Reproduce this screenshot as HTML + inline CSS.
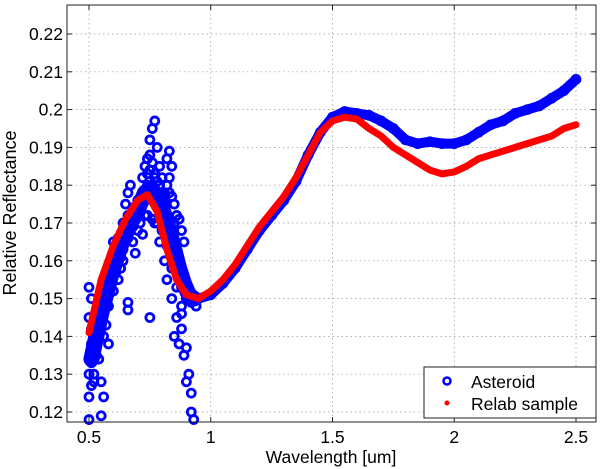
<!DOCTYPE html>
<html><head><meta charset="utf-8"><style>
body{margin:0;background:#fff;}
svg{display:block;font-family:"Liberation Sans",sans-serif;}
</style></head><body>
<svg width="600" height="469">
<g id="grid"></g>
<g id="ast"></g>
<g id="rel"></g>
<rect x="67" y="5" width="529" height="417" fill="none" stroke="#222" stroke-width="1"/>
<g id="ticks"></g>
<text x="331" y="463" font-size="17.5" text-anchor="middle">Wavelength [um]</text>
<text x="0" y="0" font-size="18" text-anchor="middle" transform="translate(16,213) rotate(-90)">Relative Reflectance</text>
<g>
<rect x="424" y="367" width="172" height="51" fill="#fff" stroke="#222" stroke-width="1"/>
<circle cx="447" cy="381" r="3.5" fill="none" stroke="#0000ff" stroke-width="2.5"/>
<text x="471" y="388" font-size="17.5">Asteroid</text>
<circle cx="447" cy="403" r="2.5" fill="#ff0000"/>
<text x="471" y="410" font-size="17.5">Relab sample</text>
</g>
</svg>
<script>
const xTicks=[0.5,1,1.5,2,2.5];
const xTickLabels=["0.5","1","1.5","2","2.5"];
const yTicks=[0.12,0.13,0.14,0.15,0.16,0.17,0.18,0.19,0.2,0.21,0.22];
const yTickLabels=["0.12","0.13","0.14","0.15","0.16","0.17","0.18","0.19","0.2","0.21","0.22"];
const astWave=[0.5,0.5,0.5,0.5,0.51,0.51,0.51,0.51,0.51,0.5,0.52,0.52,0.53,0.54,0.55,0.56,0.57,0.58,0.59,0.6,0.62,0.64,0.66,0.68,0.7,0.72,0.74,0.76,0.78,0.8,0.82,0.84,0.86,0.88,0.9,0.92,
0.54,0.55,0.55,0.56,0.58,0.6,0.61,0.66,0.66,0.65,0.66,0.67,0.69,0.72,0.73,0.74,0.75,0.75,0.76,0.77,0.78,0.79,0.8,0.75,0.71,0.82,0.83,0.84,0.83,0.85,0.86,0.87,0.88,0.87,0.89,0.82,0.84,0.85,0.86,0.87,0.88,0.89,0.9,0.91,0.9,0.92,0.92,0.93,0.88,0.81,0.79,0.77,0.8,0.63,0.6,0.58,0.57,0.56,0.52,0.53,0.54,0.62,0.64,0.68,0.7,0.73,0.77,0.79,0.81,0.83,0.85,0.86,0.89,0.91,0.94,
0.72,0.73,0.74,0.75,0.76,0.77,0.78,0.79,0.8,0.81,0.82,0.83,0.84,0.85,0.74,0.76,0.78,0.8,0.82,0.84,0.86,0.88,0.7,0.68,0.66,0.64,0.62,0.6,0.58,0.56,0.54,0.52,0.53,0.55,0.57,0.59,0.61,0.63,0.65,0.67,0.69,0.71,
0.95,1.0,1.05,1.1,1.15,1.2,1.25,1.3,1.35,1.4,1.45,1.5,1.55,1.6,1.65,1.7,1.75,1.8,1.85,1.9,1.95,2.0,2.05,2.1,2.15,2.2,2.25,2.3,2.35,2.4,2.45,2.5];
const astRefl=[0.118,0.124,0.13,0.145,0.127,0.133,0.138,0.142,0.15,0.153,0.135,0.128,0.135,0.14,0.145,0.15,0.153,0.157,0.16,0.162,0.166,0.17,0.172,0.174,0.176,0.178,0.18,0.178,0.176,0.172,0.168,0.163,0.158,0.153,0.15,0.149,
0.134,0.128,0.119,0.124,0.138,0.165,0.162,0.149,0.147,0.175,0.178,0.18,0.162,0.167,0.172,0.183,0.188,0.192,0.195,0.197,0.19,0.185,0.182,0.145,0.17,0.187,0.189,0.185,0.178,0.175,0.172,0.171,0.168,0.16,0.165,0.155,0.15,0.14,0.145,0.138,0.142,0.135,0.137,0.13,0.128,0.125,0.12,0.118,0.146,0.16,0.165,0.17,0.175,0.158,0.152,0.148,0.143,0.14,0.13,0.145,0.15,0.155,0.16,0.165,0.168,0.176,0.182,0.178,0.178,0.17,0.165,0.16,0.155,0.15,0.148,
0.182,0.185,0.187,0.184,0.186,0.183,0.181,0.18,0.178,0.176,0.18,0.182,0.177,0.17,0.172,0.171,0.17,0.168,0.164,0.158,0.153,0.148,0.172,0.169,0.166,0.163,0.16,0.156,0.152,0.147,0.142,0.137,0.14,0.143,0.148,0.153,0.157,0.161,0.165,0.168,0.171,0.174,
0.150,0.151,0.154,0.158,0.163,0.168,0.172,0.176,0.181,0.188,0.194,0.198,0.1995,0.199,0.1985,0.197,0.195,0.192,0.191,0.1915,0.191,0.191,0.192,0.194,0.196,0.197,0.199,0.2,0.201,0.203,0.205,0.208];
const bandWave=[0.51,0.53,0.55,0.57,0.59,0.61,0.63,0.65,0.67,0.69,0.71,0.73,0.75,0.77,0.79,0.81,0.83,0.85,0.87,0.89,0.91,0.93];
const bandRefl=[0.134,0.14,0.146,0.151,0.156,0.16,0.164,0.167,0.17,0.172,0.175,0.178,0.179,0.178,0.176,0.172,0.168,0.163,0.158,0.154,0.151,0.15];
const relabWave=[0.5,0.55,0.6,0.65,0.7,0.74,0.78,0.82,0.86,0.9,0.95,1.0,1.05,1.1,1.15,1.2,1.25,1.3,1.35,1.4,1.45,1.5,1.55,1.6,1.65,1.7,1.75,1.8,1.85,1.9,1.95,2.0,2.05,2.1,2.15,2.2,2.25,2.3,2.35,2.4,2.45,2.5];
const relabRefl=[0.141,0.155,0.164,0.171,0.176,0.1775,0.173,0.163,0.155,0.151,0.150,0.152,0.155,0.159,0.164,0.169,0.173,0.177,0.182,0.188,0.194,0.197,0.198,0.1975,0.195,0.193,0.19,0.188,0.186,0.184,0.183,0.1835,0.185,0.187,0.188,0.189,0.19,0.191,0.192,0.193,0.195,0.196];
const NS="http://www.w3.org/2000/svg";
const X=v=>89+(v-0.5)*243.5;
const Y=v=>412-(v-0.12)*3780;
function mk(t,a,p){const e=document.createElementNS(NS,t);for(const k in a)e.setAttribute(k,a[k]);p.appendChild(e);return e;}
const grid=document.getElementById('grid'),ticks=document.getElementById('ticks');
xTicks.forEach((v,i)=>{
 const g=mk('line',{x1:X(v),x2:X(v),y1:5,y2:422,stroke:'#999','stroke-width':0.7,'stroke-dasharray':'1.5,3'},grid);
 
 
 mk('line',{x1:X(v),x2:X(v),y1:422,y2:417,stroke:'#222'},ticks);
 mk('line',{x1:X(v),x2:X(v),y1:5,y2:10,stroke:'#222'},ticks);
 const t=mk('text',{x:X(v),y:443,'font-size':17.5,'text-anchor':'middle'},ticks);t.textContent=xTickLabels[i];
 
 
});
yTicks.forEach((v,i)=>{
 const g=mk('line',{x1:67,x2:596,y1:Y(v),y2:Y(v),stroke:'#999','stroke-width':0.7,'stroke-dasharray':'1.5,3'},grid);
 
 
 mk('line',{x1:67,x2:72,y1:Y(v),y2:Y(v),stroke:'#222'},ticks);
 mk('line',{x1:596,x2:591,y1:Y(v),y2:Y(v),stroke:'#222'},ticks);
 const t=mk('text',{x:63,y:Y(v)+6,'font-size':17.5,'text-anchor':'end'},ticks);t.textContent=yTickLabels[i];
 
 
});
const ast=document.getElementById('ast'),rel=document.getElementById('rel');
const nb=mk('polyline',{points:bandWave.map((w,i)=>X(w)+','+Y(bandRefl[i])).join(' '),fill:'none',stroke:'#0000ff','stroke-width':16,'stroke-linejoin':'round','stroke-linecap':'round'},ast);


let pts=[];astWave.forEach((w,i)=>{if(i>=astWave.length-32)pts.push(X(w)+','+Y(astRefl[i]));});
const band=mk('polyline',{points:pts.join(' '),fill:'none',stroke:'#0000ff','stroke-width':10,'stroke-linejoin':'round','stroke-linecap':'round'},ast);


astWave.forEach((w,i)=>{
 const c=mk('circle',{cx:X(w),cy:Y(astRefl[i]),r:4,fill:'none',stroke:'#0000ff','stroke-width':2.8},ast);
 
 
});
const rp=relabWave.map((w,i)=>X(w)+','+Y(relabRefl[i])).join(' ');
const rl=mk('polyline',{points:rp,fill:'none',stroke:'#ff0000','stroke-width':7,'stroke-linejoin':'round','stroke-linecap':'round'},rel);


</script>
</body></html>
